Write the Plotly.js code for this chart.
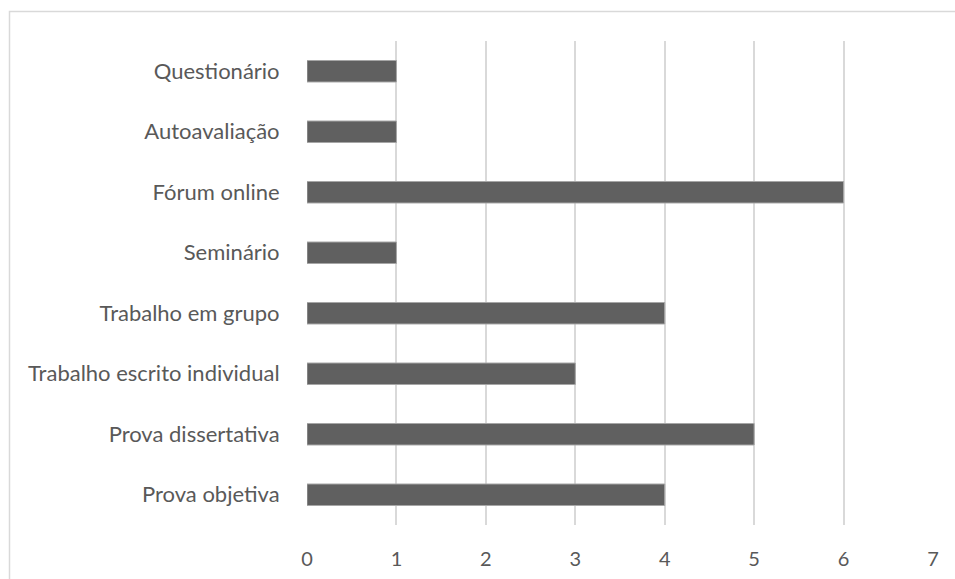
<!DOCTYPE html>
<html>
<head>
<meta charset="utf-8">
<script src="https://cdn.plot.ly/plotly-3.0.1.min.js"></script>
<style>
  html, body { margin: 0; padding: 0; background: #fff; }
  #chart { width: 955px; height: 579px; }
</style>
</head>
<body>
<div id="chart"></div>
<script>
// Assessment instruments and how often each was used (bottom to top)
const categories = [
  "Prova objetiva",
  "Prova dissertativa",
  "Trabalho escrito individual",
  "Trabalho em grupo",
  "Seminário",
  "Fórum online",
  "Autoavaliação",
  "Questionário"
];
const counts = [4, 5, 3, 4, 1, 6, 1, 1];
const xTicks = [0, 1, 2, 3, 4, 5, 6, 7];

const W = 955, H = 579;
const margin = { l: 307, r: 22, t: 41, b: 54 };
const plotW = W - margin.l - margin.r;
const plotH = H - margin.t - margin.b;
// frame around the chart area, in paper coordinates
const px = v => (v - margin.l) / plotW;
const py = v => (H - margin.b - v) / plotH;

const trace = {
  type: "bar",
  orientation: "h",
  y: categories,
  x: counts,
  marker: { color: "#606060", line: { color: "#a6a6a6", width: 1 } },
  hoverinfo: "x+y"
};

const FONT = "Lato, Open Sans, sans-serif";

const layout = {
  width: W,
  height: H,
  margin: margin,
  paper_bgcolor: "#ffffff",
  plot_bgcolor: "#ffffff",
  showlegend: false,
  bargap: 0.645,
  font: { family: FONT, size: 21, color: "#595959" },
  xaxis: {
    range: [0, 7],
    tickvals: xTicks,
    ticktext: xTicks.map(String),
    showgrid: true,
    gridcolor: "#d9d9d9",
    gridwidth: 2,
    zeroline: false,
    showline: false,
    ticks: "outside",
    ticklen: 16,
    tickcolor: "rgba(0,0,0,0)",
    tickfont: { family: FONT, size: 20, color: "#595959" },
    fixedrange: true
  },
  yaxis: {
    type: "category",
    showgrid: false,
    zeroline: false,
    showline: false,
    ticks: "outside",
    ticklen: 22,
    tickcolor: "rgba(0,0,0,0)",
    tickfont: { family: FONT, size: 22, color: "#595959" },
    automargin: false,
    fixedrange: true
  },
  shapes: [
    {
      type: "rect",
      xref: "paper", yref: "paper",
      x0: px(9.5), x1: px(W + 20),
      y0: py(H + 20), y1: py(11.5),
      line: { color: "#d9d9d9", width: 1.5 },
      fillcolor: "rgba(0,0,0,0)",
      layer: "below"
    }
  ]
};

Plotly.newPlot("chart", [trace], layout, { displayModeBar: false, staticPlot: true });
</script>
</body>
</html>
